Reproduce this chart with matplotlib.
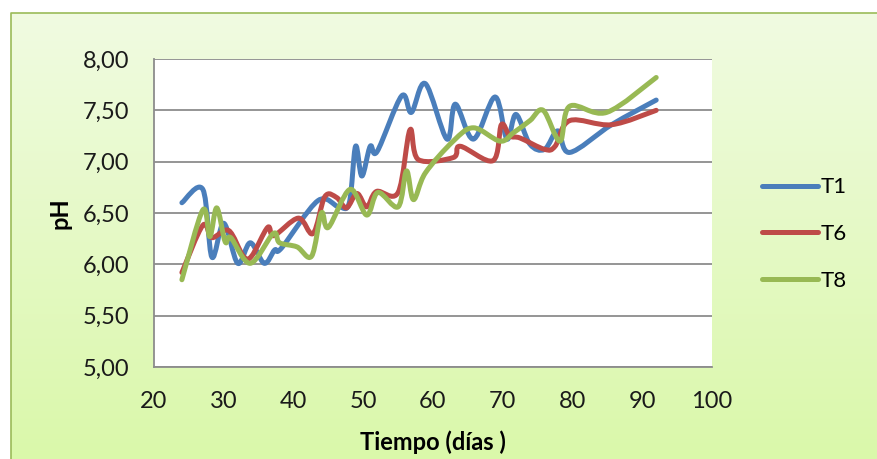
import numpy as np
import matplotlib.pyplot as plt
from matplotlib.path import Path
from matplotlib.patches import PathPatch, Rectangle
from matplotlib.lines import Line2D

plt.rcParams['font.family'] = ['Lato', 'DejaVu Sans']

""" Data (read off the reference) """

t1_dias = [24, 27, 28.3, 30, 32, 33.8, 35.8, 37.3, 38.3, 43.5, 46.5, 48.0,
           48.9, 49.8, 51, 52, 55.5, 56.9, 58.9, 62, 63.2, 65.8, 68.9, 70.6,
           71.9, 73.9, 76, 77.9, 79.6, 85.6, 92]
t1_ph = [6.60, 6.73, 6.07, 6.40, 6.01, 6.21, 6.01, 6.14, 6.16, 6.62, 6.56, 6.60,
         7.15, 6.86, 7.15, 7.10, 7.64, 7.48, 7.76, 7.22, 7.56, 7.22, 7.63, 7.22,
         7.46, 7.17, 7.12, 7.30, 7.09, 7.36, 7.60]

t6_dias = [24, 27, 28.3, 30.7, 32.8, 34, 36.3, 37.2, 40.7, 42.8, 44.5, 46.2,
           47.6, 49.1, 50.5, 51.9, 55, 56.7, 57.9, 62.9, 63.9, 68.6, 69.8, 71,
           72.5, 76, 77.5, 79.6, 85.6, 92]
t6_ph = [5.92, 6.38, 6.26, 6.33, 6.08, 6.08, 6.36, 6.28, 6.45, 6.30, 6.66, 6.65,
         6.55, 6.69, 6.56, 6.71, 6.70, 7.31, 7.02, 7.04, 7.15, 7.01, 7.36, 7.25,
         7.23, 7.12, 7.15, 7.40, 7.36, 7.50]

t8_dias = [24, 27, 28, 29, 30.2, 31, 33.8, 37.1, 38, 40.5, 42.6, 44.0, 45.0,
           48.1, 50.5, 52.1, 55, 56.2, 57.2, 58.9, 62.9, 65.8, 69.6, 71.5,
           73.9, 75.8, 78.2, 79.6, 84.9, 92]
t8_ph = [5.85, 6.53, 6.27, 6.55, 6.22, 6.26, 6.01, 6.30, 6.21, 6.17, 6.08, 6.50, 6.36,
         6.73, 6.48, 6.70, 6.56, 6.91, 6.63, 6.89, 7.20, 7.33, 7.20, 7.28,
         7.40, 7.50, 7.20, 7.54, 7.48, 7.82]

series = [("T1", t1_dias, t1_ph, "#4A7EBB"),
          ("T6", t6_dias, t6_ph, "#BE4B48"),
          ("T8", t8_dias, t8_ph, "#98B954")]

x_ticks = [20, 30, 40, 50, 60, 70, 80, 90, 100]
y_ticks = [5.0, 5.5, 6.0, 6.5, 7.0, 7.5, 8.0]


def smooth_path(x, y, k=1/6):
    """Bezier path through the points, like Excel's smoothed line."""
    p = np.column_stack([x, y]).astype(float)
    verts = [p[0]]
    codes = [Path.MOVETO]
    n = len(p)
    for i in range(n - 1):
        p_prev = p[i - 1] if i > 0 else p[i]
        p_next2 = p[i + 2] if i + 2 < n else p[i + 1]
        c1 = p[i] + (p[i + 1] - p_prev) * k
        c2 = p[i + 1] - (p_next2 - p[i]) * k
        verts += [c1, c2, p[i + 1]]
        codes += [Path.CURVE4] * 3
    return Path(verts, codes)


fig = plt.figure(figsize=(8.78, 4.59), dpi=100)

# gradient background + border
bg = fig.add_axes([0, 0, 1, 1], zorder=-2)
grad = np.linspace(0, 1, 256).reshape(-1, 1)
top = np.array([0.945, 0.984, 0.890])
bot = np.array([0.855, 0.973, 0.667])
img = top + (bot - top) * grad[:, :, None]
bg.imshow(img, aspect="auto", extent=[0, 1, 0, 1], origin="upper")
bg.set_xlim(0, 1)
bg.set_ylim(0, 1)
bg.axis("off")
bg.add_patch(Rectangle((0, 0), 11 / 878, 1, color="white", lw=0))
bg.add_patch(Rectangle((0, 1 - 13 / 459), 1, 13 / 459, color="white", lw=0))
bg.plot([11 / 878, 11 / 878, 1], [0, 1 - 13 / 459, 1 - 13 / 459], color="#9BBB59", lw=1.2)

ax = fig.add_axes([154 / 878, 1 - 367 / 459, (712 - 154) / 878, (367 - 59) / 459])
ax.set_facecolor("white")

for name, xs, ys, col in series:
    patch = PathPatch(smooth_path(xs, ys), facecolor="none", edgecolor=col,
                      lw=3.6, capstyle="round", joinstyle="round", zorder=3)
    ax.add_patch(patch)

ax.set_xlim(20, 100)
ax.set_ylim(5, 8)
ax.set_xticks(x_ticks)
ax.set_yticks(y_ticks)
ax.set_yticklabels([f"{v:.2f}".replace(".", ",") for v in y_ticks])
ax.tick_params(length=0, labelsize=17, colors="#1a1a1a")
ax.tick_params(axis="x", pad=17)
ax.tick_params(axis="y", pad=18)
ax.grid(axis="y", color="#8C8C8C", lw=1.3)
ax.set_axisbelow(True)
for s in ["top", "right"]:
    ax.spines[s].set_visible(False)
for s in ["left", "bottom"]:
    ax.spines[s].set_color("#8C8C8C")
    ax.spines[s].set_linewidth(1.3)

ax.set_xlabel("Tiempo (días )", fontsize=17, fontweight="bold")
ax.set_ylabel("pH", fontsize=17, fontweight="bold")
ax.xaxis.set_label_coords(0.5, -0.205)
ax.yaxis.set_label_coords(-0.147, 0.5)

handles = [Line2D([], [], color=c, lw=3.6, solid_capstyle="round") for _, _, _, c in series]
fig.legend(handles, [s[0] for s in series], loc="center left",
           bbox_to_anchor=(742 / 878, 1 - 234 / 459), frameon=False,
           fontsize=16, handlelength=2.5, handletextpad=0.15, labelspacing=1.2)

fig.savefig("out.png", dpi=100)
